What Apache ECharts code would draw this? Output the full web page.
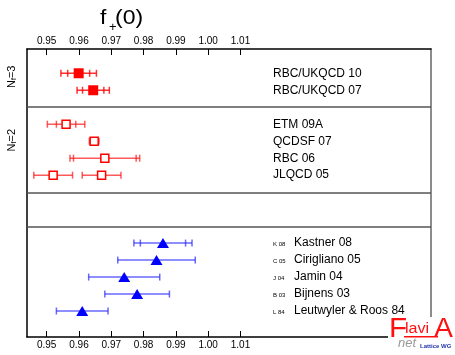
<!DOCTYPE html>
<html>
<head>
<meta charset="utf-8">
<script src="https://cdn.jsdelivr.net/npm/echarts@6/dist/echarts.min.js"></script>
<style>
html,body{margin:0;padding:0;background:#fff;}
#chart{width:455px;height:355px;}
</style>
</head>
<body>
<div id="chart"></div>
<script>
// tick labels of both x axes
var xTicks = [0.95, 0.96, 0.97, 0.98, 0.99, 1.00, 1.01];

// Nf=3 (filled squares)
var nf3Names  = ['RBC/UKQCD 10', 'RBC/UKQCD 07'];
var nf3Rows   = [0, 1];
var nf3Val    = [0.9599, 0.9644];
var nf3Stat   = [0.0034, 0.0033];
var nf3Tot    = [0.0055, 0.0050];

// Nf=2 (open squares), JLQCD 05 has two points on one row
var nf2Names  = ['ETM 09A', 'QCDSF 07', 'RBC 06', 'JLQCD 05', ''];
var nf2Rows   = [3, 4, 5, 6, 6];
var nf2Val    = [0.9560, 0.9647, 0.9680, 0.9520, 0.9670];
var nf2Stat   = [0.0030, 0.0015, 0.0097, 0.0060, 0.0060];
var nf2Tot    = [0.0058, 0.0015, 0.0108, 0.0060, 0.0060];

// non-lattice estimates (blue triangles)
var phNames   = ['Kastner 08', 'Cirigliano 05', 'Jamin 04', 'Bijnens 03', 'Leutwyler & Roos 84'];
var phShort   = ['K 08', 'C 05', 'J 04', 'B 03', 'L 84'];
var phRows    = [10, 11, 12, 13, 14];
var phVal     = [0.986, 0.984, 0.974, 0.978, 0.961];
var phStat    = [0.007, 0.012, 0.011, 0.010, 0.008];
var phTot     = [0.009, 0.012, 0.011, 0.010, 0.008];

// group separators (row units)
var sepRows = [2.0, 7.05, 9.05];

function pts(val, rows){
	var out = [];
	for(var i=0;i<val.length;i++){ out.push([val[i], rows[i]]); }
	return out;
}
function errs(val, stat, tot, rows){
	var out = [];
	for(var i=0;i<val.length;i++){ out.push([val[i], rows[i], stat[i], tot[i]]); }
	return out;
}

/**
 * horizontal error bar with outer (total) and inner (stat) caps
 */
function errRender(color){
	return function(params, api){
		var c = api.value(0), r = api.value(1), s = api.value(2), t = api.value(3);
		var lo = api.coord([c - t, r]), hi = api.coord([c + t, r]);
		var h = 3.5;
		var st = {stroke: color, lineWidth: 1.5};
		var kids = [
			{type:'line', shape:{x1:lo[0], y1:lo[1], x2:hi[0], y2:hi[1]}, style:st},
			{type:'line', shape:{x1:lo[0], y1:lo[1]-h, x2:lo[0], y2:lo[1]+h}, style:st},
			{type:'line', shape:{x1:hi[0], y1:hi[1]-h, x2:hi[0], y2:hi[1]+h}, style:st}
		];
		if(t - s > 0.0005){
			var a = api.coord([c - s, r]), b = api.coord([c + s, r]);
			kids.push({type:'line', shape:{x1:a[0], y1:a[1]-h, x2:a[0], y2:a[1]+h}, style:st});
			kids.push({type:'line', shape:{x1:b[0], y1:b[1]-h, x2:b[0], y2:b[1]+h}, style:st});
		}
		return {type:'group', children:kids};
	};
}

var FONT = 'Liberation Sans, Arial, sans-serif';
var xMin = 0.9439, xMax = 1.069;
var yMin = -1.43, yMax = 15.53;

var xAxisBase = function(pos){
	return {
		type:'value', position:pos, min:xMin, max:xMax,
		axisLine:{show:true, onZero:false, lineStyle:{color:'#000', width:1.5}},
		axisTick:{show:true, inside:true, length:6, customValues:xTicks, lineStyle:{color:'#000'}},
		axisLabel:{show:true, margin:3, fontSize:10, fontFamily:FONT, color:'#000',
			customValues:xTicks, formatter:function(v){ return v.toFixed(2); }},
		splitLine:{show:false}
	};
};

var chart = echarts.init(document.getElementById('chart'));
var option = {
	animation:false,
	backgroundColor:'#fff',
	grid:{left:27, right:24, top:49, bottom:18},
	xAxis:[xAxisBase('top'), xAxisBase('bottom')],
	yAxis:[
		{type:'value', min:yMin, max:yMax, inverse:true, position:'left',
			axisLine:{show:true, lineStyle:{color:'#000', width:1.5}},
			axisTick:{show:false}, axisLabel:{show:false}, splitLine:{show:false}},
		{type:'value', min:yMin, max:yMax, inverse:true, position:'right',
			axisLine:{show:true, lineStyle:{color:'#666', width:1.5}},
			axisTick:{show:false}, axisLabel:{show:false}, splitLine:{show:false}}
	],
	series:[
		{type:'custom', renderItem:errRender('rgba(255,0,0,0.8)'), data:errs(nf3Val, nf3Stat, nf3Tot, nf3Rows), z:1},
		{type:'custom', renderItem:errRender('rgba(255,20,20,0.7)'), data:errs(nf2Val, nf2Stat, nf2Tot, nf2Rows), z:1},
		{type:'custom', renderItem:errRender('rgba(40,40,255,0.7)'), data:errs(phVal, phStat, phTot, phRows), z:1},
		{type:'scatter', symbol:'rect', symbolSize:10, data:pts(nf3Val, nf3Rows),
			itemStyle:{color:'#ff0000', opacity:1}, z:3,
			markLine:{silent:true, symbol:'none', label:{show:false},
				lineStyle:{color:'#555', width:1.5, type:'solid'},
				data:sepRows.map(function(v){ return {yAxis:v}; })}},
		{type:'scatter', symbol:'rect', symbolSize:8, data:pts(nf2Val, nf2Rows),
			itemStyle:{color:'#fff', borderColor:'#ff0000', borderWidth:1.5, opacity:1}, z:3},
		{type:'scatter', symbol:'triangle', symbolSize:[12,10], data:pts(phVal, phRows),
			itemStyle:{color:'#0000ff', opacity:1}, z:3}
	]
};
chart.setOption(option);

// labels on the right, placed from the row values
var gfx = [];
function rowY(r){ return chart.convertToPixel({gridIndex:0}, [1.0, r])[1]; }
function addNames(names, rows, x){
	for(var i=0;i<names.length;i++){
		if(!names[i]) continue;
		gfx.push({type:'text', x:x, y:rowY(rows[i]),
			style:{text:names[i], fontSize:12, fontFamily:FONT, fill:'#000', verticalAlign:'middle'}});
	}
}
addNames(nf3Names, nf3Rows, 273);
addNames(nf2Names, nf2Rows, 273);
addNames(phNames, phRows, 294);
for(var i=0;i<phShort.length;i++){
	gfx.push({type:'text', x:273, y:rowY(phRows[i])+1,
		style:{text:phShort[i], fontSize:6, fontFamily:FONT, fill:'#000', verticalAlign:'middle'}});
}

// N_f group labels, rotated
function nfLabel(n, y){
	return {type:'text', x:12, y:y, rotation:Math.PI/2,
		style:{text:'{a|N}{b|f}{a|=' + n + '}', align:'center', verticalAlign:'middle',
			rich:{a:{fontSize:11, fontFamily:FONT, fill:'#000'},
				  b:{fontSize:7, fontFamily:FONT, fill:'#000', padding:[5,0,0,0]}}}};
}
gfx.push(nfLabel(3, rowY(0) + 3.5));
gfx.push(nfLabel(2, rowY(4) - 1));

// title f+(0)
gfx.push({type:'text', x:100, y:8, scaleX:1.15, style:{text:'f', fontSize:20, fontFamily:FONT, fill:'#000'}});
gfx.push({type:'text', x:109, y:21, style:{text:'+', fontSize:13, fontFamily:FONT, fill:'#000'}});
gfx.push({type:'text', x:115, y:8, scaleX:1.15, style:{text:'(0)', fontSize:20, fontFamily:FONT, fill:'#000'}});

// FlaviA logo, bottom right
gfx.push({type:'rect', shape:{x:388, y:317, width:67, height:38}, style:{fill:'#fff'}, z:10});
gfx.push({type:'text', x:389, y:316, scaleX:1.1, z:11, style:{text:'F', fontSize:27, fontFamily:FONT, fill:'#ff1010'}});
gfx.push({type:'text', x:405, y:322, scaleX:1.15, z:11, style:{text:'lavi', fontSize:14, fontFamily:FONT, fill:'#ff1010'}});
gfx.push({type:'rect', z:11, shape:{x:404, y:336, width:34, height:1.5}, style:{fill:'#ff1010'}});
gfx.push({type:'text', x:434, y:316, scaleX:1.05, z:11, style:{text:'A', fontSize:27, fontFamily:FONT, fill:'#ff1010'}});
gfx.push({type:'text', x:398, y:337, z:11, style:{text:'net', fontSize:13, fontStyle:'italic', fontFamily:FONT, fill:'#999'}});
gfx.push({type:'text', x:420, y:343, z:11, style:{text:'Lattice WG', fontSize:6, fontWeight:'bold', fontFamily:FONT, fill:'#2233aa'}});

chart.setOption({graphic:gfx});
</script>
</body>
</html>
